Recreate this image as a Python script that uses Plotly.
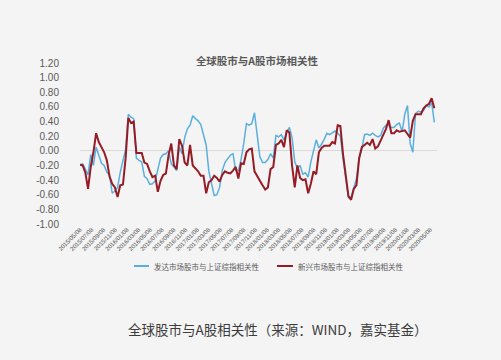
import plotly.graph_objects as go
import pandas as pd

# Biweekly sampling of the two correlation series
dates = pd.date_range("2015-05-08", periods=133, freq="14D")

developed = [
    -0.19, -0.18, -0.25, -0.33, -0.05, -0.20, 0.05, -0.05, -0.17, -0.20,
    -0.29, -0.33, -0.58, -0.55, -0.50, -0.29, -0.15, 0.02, 0.50, 0.46,
    0.44, -0.10, -0.13, -0.15, -0.35, -0.38, -0.46, -0.45, -0.41, -0.25,
    -0.10, -0.05, -0.04, 0.00, -0.18, -0.22, -0.27, 0.05, -0.04, 0.18,
    0.30, 0.35, 0.48, 0.44, 0.41, 0.36, 0.23, 0.08, -0.28, -0.44,
    -0.61, -0.60, -0.50, -0.27, -0.16, -0.11, -0.06, -0.04, -0.27, -0.27,
    -0.12, 0.10, 0.37, 0.35,
    0.37, 0.52, 0.25, -0.08, -0.16, -0.16, -0.12, -0.04, -0.10, 0.21,
    0.19, 0.22, 0.15, 0.25, 0.32, 0.18, -0.15, -0.24, -0.20, -0.32,
    -0.30, -0.36, -0.15, 0.02, 0.15, 0.04, 0.09, 0.16, 0.24, 0.22,
    0.25, 0.27, 0.24, 0.20, -0.11, -0.40, -0.64, -0.63, -0.52, -0.38,
    -0.10, 0.03, 0.22, 0.23, 0.21, 0.24, 0.21, 0.19, 0.21, 0.31,
    0.35, 0.35, 0.32, 0.32, 0.36, 0.38, 0.26, 0.50, 0.62, 0.10,
    -0.02, 0.51, 0.54, 0.53, 0.55, 0.62, 0.60, 0.66, 0.39,
]

emerging = [
    -0.19, -0.20, -0.30, -0.52, -0.22, -0.02, 0.24, 0.12, 0.05, -0.02,
    -0.13, -0.35, -0.45, -0.50, -0.63, -0.47, -0.46, -0.10, 0.45, 0.38,
    0.40, -0.03, -0.03, -0.03, -0.16, -0.18, -0.28, -0.36, -0.34, -0.56,
    -0.41, -0.33, -0.31, -0.06, 0.10, -0.20, -0.25, 0.16, 0.07, -0.16,
    -0.20, 0.08, -0.20, -0.24, -0.28, -0.34, -0.34, -0.58, -0.43, -0.40,
    -0.34, -0.37, -0.42, -0.33, -0.28, -0.30, -0.31, -0.27, -0.22, -0.38,
    -0.17, -0.18, -0.02, 0.02,
    0.03, -0.28, -0.35, -0.40, -0.47, -0.53, -0.50, -0.25, -0.22, 0.08,
    0.10, 0.15, 0.05, 0.28, 0.25, -0.20, -0.50, -0.20, -0.37, -0.40,
    -0.39, -0.58, -0.45, -0.28, -0.32, -0.02, 0.04, 0.07, 0.07, 0.07,
    0.12, 0.10, 0.35, 0.34, -0.05, -0.32, -0.62, -0.67, -0.52, -0.47,
    -0.10, 0.05, 0.08, 0.11, 0.08, 0.16, 0.03, 0.06, 0.14, 0.22,
    0.30, 0.42, 0.24, 0.24, 0.28, 0.26, 0.27, 0.28, 0.23, 0.18,
    0.41, 0.50, 0.50, 0.50, 0.58, 0.62, 0.64, 0.72, 0.58,
]

series_names = ["发达市场股市与上证综指相关性", "新兴市场股市与上证综指相关性"]
title_text = "全球股市与A股市场相关性"
caption_text = "全球股市与A股相关性（来源：WIND，嘉实基金）"

x_tick_dates = [pd.Timestamp("2015-05-08") + pd.DateOffset(months=2 * i) for i in range(31)]
x_tick_text = [d.strftime("%Y/%m/%d") for d in x_tick_dates]
y_tick_vals = [round(-1.0 + 0.2 * i, 2) for i in range(12)]
y_tick_text = [f"{v:.2f}" for v in y_tick_vals]

BLUE = "#5aafdf"
RED = "#951c24"
GRAY = "#595959"
BG = "#f4f4f4"
CJK = "Noto Sans CJK SC, Noto Sans, sans-serif"

# page body margin offsets the figure by 8px; compensate
W, H = 493, 352
OFF = 8

fig = go.Figure()
fig.add_trace(go.Scatter(x=dates, y=developed, mode="lines", name=series_names[0],
                         line=dict(color=BLUE, width=1.5), showlegend=False))
fig.add_trace(go.Scatter(x=dates, y=emerging, mode="lines", name=series_names[1],
                         line=dict(color=RED, width=2), showlegend=False))

fig.update_layout(
    width=W, height=H,
    margin=dict(l=80 - OFF, r=64, t=63 - OFF, b=136, pad=0),
    paper_bgcolor=BG, plot_bgcolor=BG,
    title=dict(text=f"<b>{title_text}</b>", x=(257 - OFF) / W, xanchor="center",
               y=1 - (61 - OFF) / H, yanchor="middle",
               font=dict(family=CJK, size=10.5, color=GRAY)),
    xaxis=dict(type="date", range=["2015-05-08", "2020-06-12"], showgrid=False, showline=False,
               zeroline=False, tickvals=x_tick_dates, ticktext=x_tick_text, tickangle=-45,
               tickfont=dict(family="Liberation Sans", size=6, color="#4d4d4d"), ticks=""),
    yaxis=dict(range=[-1.0, 1.2], showgrid=False, zeroline=True, zerolinecolor="#d9d9d9",
               zerolinewidth=1, tickvals=y_tick_vals, ticktext=y_tick_text,
               tickfont=dict(family="Liberation Sans Narrow, Liberation Sans", size=10, color=GRAY),
               ticklabelstandoff=20, showline=False, ticks=""),
)

# manual legend (short line samples); coordinates in screen px relative to plot area
def pxx(px):
    return (px - 80) / 357.0

def pxy(py):
    return (224 - py) / 161.0

legend_items = [(BLUE, 134, 149, 152, series_names[0]), (RED, 277, 293, 296, series_names[1])]
for color, x0, x1, xt, name in legend_items:
    fig.add_shape(type="line", xref="paper", yref="paper", x0=pxx(x0), x1=pxx(x1),
                  y0=pxy(266), y1=pxy(266), line=dict(color=color, width=2))
    fig.add_annotation(xref="paper", yref="paper", x=pxx(xt), y=pxy(266), text=name,
                       showarrow=False, xanchor="left", yanchor="middle",
                       font=dict(family=CJK, size=7.5, color=GRAY))

fig.add_annotation(xref="paper", yref="paper", x=pxx(278), y=pxy(329), text=caption_text,
                   showarrow=False, xanchor="center", yanchor="middle",
                   font=dict(family=CJK, size=13.5, color="#3c3c3c"))

fig.write_html("out.html", post_script="document.body.style.background='#f4f4f4';")
